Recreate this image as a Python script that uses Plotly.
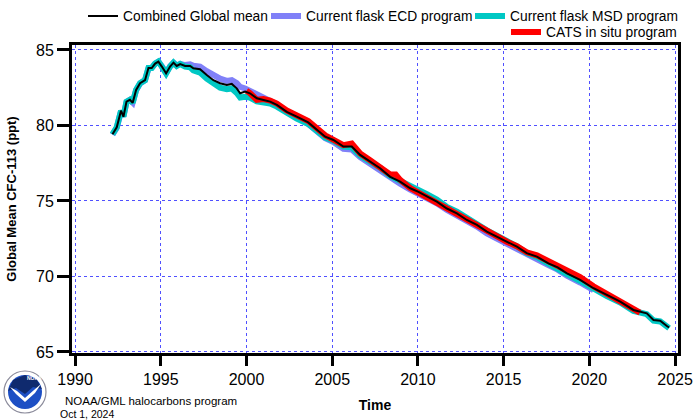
import plotly.graph_objects as go

# ---------------- data ----------------
comb_years = [1992.18, 1992.43, 1992.68, 1992.82, 1993.00, 1993.20, 1993.36, 1993.56, 1993.79, 1994.08,
              1994.28, 1994.47, 1994.67, 1994.86, 1995.06, 1995.31, 1995.54, 1995.74, 1995.93, 1996.13,
              1996.42, 1996.71, 1996.90, 1997.29, 1997.68, 1998.07, 1998.46, 1998.85, 1999.14, 1999.43,
              1999.63, 1999.92, 2000.20, 2000.60, 2000.99, 2001.38, 2001.77, 2002.35, 2002.93, 2003.60,
              2004.59, 2005.07, 2005.65, 2006.14, 2006.63, 2007.21, 2007.79, 2008.38, 2008.96, 2009.55,
              2010.03, 2010.52, 2011.10, 2011.69, 2012.27, 2012.85, 2013.44, 2014.02, 2014.60, 2015.19,
              2015.77, 2016.35, 2016.94, 2017.61, 2018.15, 2018.69, 2019.46, 2020.24, 2021.02, 2021.80,
              2022.57, 2023.35, 2023.74, 2024.13, 2024.52, 2024.65]
comb_vals = [79.42, 79.88, 80.98, 80.58, 81.58, 81.70, 81.50, 82.35, 82.80, 83.00,
             83.80, 83.80, 84.10, 84.23, 83.90, 83.45, 83.90, 84.16, 83.94, 84.07,
             83.94, 83.94, 83.79, 83.72, 83.34, 83.00, 82.80, 82.68, 82.75, 82.46,
             82.13, 82.24, 82.13, 81.80, 81.69, 81.58, 81.36, 80.90, 80.58, 80.20,
             79.26, 79.04, 78.60, 78.60, 78.05, 77.60, 77.17, 76.60, 76.28, 75.84,
             75.60, 75.30, 74.95, 74.50, 74.18, 73.74, 73.41, 72.97, 72.64, 72.30,
             71.97, 71.54, 71.31, 70.87, 70.60, 70.21, 69.77, 69.22, 68.77, 68.33,
             67.78, 67.56, 67.12, 67.07, 66.72, 66.62]

ecd_years = [1992.18, 1992.43, 1992.68, 1992.82, 1993.00, 1993.20, 1993.36, 1993.56, 1993.79, 1994.08,
             1994.28, 1994.47, 1994.67, 1994.86, 1995.06, 1995.31, 1995.54, 1995.74, 1995.93, 1996.13,
             1996.42, 1996.71, 1996.90, 1997.29, 1997.68, 1998.07, 1998.46, 1998.85, 1999.14, 1999.43,
             1999.63, 1999.92, 2000.20, 2000.60, 2000.99, 2001.38, 2001.77, 2002.35, 2002.93, 2003.60,
             2004.59, 2005.07, 2005.65, 2006.14, 2006.63, 2007.21, 2007.79, 2008.38, 2008.96, 2009.55,
             2010.03, 2010.52, 2011.10, 2011.69, 2012.27, 2012.85, 2013.44, 2014.02, 2014.60, 2015.19,
             2015.77, 2016.35, 2016.94, 2017.61, 2018.15, 2018.69, 2019.46, 2020.24]
ecd_vals = [79.40, 79.85, 80.95, 80.60, 81.55, 81.70, 81.52, 82.33, 82.78, 83.00,
            83.78, 83.82, 84.10, 84.22, 83.92, 83.48, 83.92, 84.15, 83.98, 84.08,
            84.00, 84.05, 83.95, 83.90, 83.60, 83.30, 83.10, 82.95, 83.00, 82.80,
            82.55, 82.45, 82.30, 82.00, 81.80, 81.65, 81.40, 80.90, 80.55, 80.10,
            79.15, 78.90, 78.45, 78.40, 77.90, 77.45, 77.00, 76.50, 76.15, 75.75,
            75.50, 75.20, 74.85, 74.40, 74.05, 73.60, 73.30, 72.85, 72.50, 72.15,
            71.80, 71.40, 71.15, 70.75, 70.45, 70.05, 69.60, 69.10]

msd_years = comb_years
msd_vals = [79.42, 79.88, 80.98, 80.58, 81.58, 81.70, 81.50, 82.35, 82.80, 83.00,
            83.80, 83.80, 84.10, 84.23, 83.90, 83.45, 83.90, 84.16, 83.94, 84.07,
            83.90, 83.85, 83.65, 83.50, 83.10, 82.75, 82.50, 82.40, 82.45, 82.15,
            81.85, 81.90, 81.85, 81.60, 81.55, 81.45, 81.25, 80.80, 80.45, 80.10,
            79.20, 79.00, 78.60, 78.55, 78.00, 77.60, 77.20, 76.65, 76.35, 75.95,
            75.75, 75.45, 75.10, 74.60, 74.30, 73.85, 73.50, 73.05, 72.70, 72.35,
            72.00, 71.55, 71.30, 70.85, 70.55, 70.15, 69.70, 69.15, 68.70, 68.28,
            67.72, 67.50, 67.08, 67.02, 66.68, 66.58]

cats_years = [2000.00, 2000.20, 2000.60, 2000.99, 2001.38, 2001.77, 2002.35, 2002.93, 2003.60, 2004.59,
              2005.07, 2005.65, 2006.14, 2006.63, 2007.21, 2007.79, 2008.38, 2008.70, 2008.96, 2009.55,
              2010.03, 2010.52, 2011.10, 2011.69, 2012.27, 2012.85, 2013.44, 2014.02, 2014.60, 2015.19,
              2015.77, 2016.35, 2016.94, 2017.61, 2018.15, 2018.69, 2019.46, 2020.24, 2021.02, 2021.80,
              2022.57, 2022.95]
cats_vals = [82.30, 82.15, 81.70, 81.75, 81.65, 81.45, 81.00, 80.65, 80.30, 79.35,
             79.10, 78.70, 78.80, 78.15, 77.70, 77.25, 76.75, 76.75, 76.40, 75.85,
             75.55, 75.20, 74.85, 74.45, 74.15, 73.70, 73.40, 72.95, 72.65, 72.30,
             72.00, 71.60, 71.40, 71.00, 70.75, 70.35, 69.95, 69.35, 68.85, 68.40,
             67.85, 67.60]

x_ticks = [1990, 1995, 2000, 2005, 2010, 2015, 2020, 2025]
y_ticks = [65, 70, 75, 80, 85]

# ---------------- figure ----------------
W, H = 695, 420
L, R, T, B = 72, 17, 45, 67
PW, PH = W - L - R, H - T - B
FONT = "Liberation Sans, Arial, Helvetica, sans-serif"

fig = go.Figure()
fig.add_trace(go.Scatter(x=ecd_years, y=ecd_vals, mode="lines", name="Current flask ECD program",
                         line=dict(color="#8080f8", width=6), legend="legend2"))
fig.add_trace(go.Scatter(x=msd_years, y=msd_vals, mode="lines", name="Current flask MSD program",
                         line=dict(color="#00c8c4", width=6), legend="legend3"))
fig.add_trace(go.Scatter(x=cats_years, y=cats_vals, mode="lines", name="CATS in situ program",
                         line=dict(color="#ff0000", width=6), legend="legend4"))
fig.add_trace(go.Scatter(x=comb_years, y=comb_vals, mode="lines", name="Combined Global mean",
                         line=dict(color="#000000", width=2), legend="legend"))

grid = dict(showgrid=True, gridcolor="#5050ff", gridwidth=1, griddash="dot")

fig.update_xaxes(range=[1989.82, 2025.17], tickvals=x_ticks, ticktext=[str(v) for v in x_ticks],
                 ticks="outside", ticklen=10, tickwidth=2.5, tickcolor="black",
                 showline=True, linecolor="black", linewidth=3, mirror=True, zeroline=False,
                 tickfont=dict(size=16, family=FONT, color="black"),
                 title=dict(text="<b>Time</b>", font=dict(size=14, family=FONT, color="black"), standoff=13),
                 **grid)
fig.update_yaxes(range=[64.93, 85.33], tickvals=y_ticks, ticktext=[str(v) for v in y_ticks],
                 ticks="outside", ticklen=12, tickwidth=2.5, tickcolor="black",
                 showline=True, linecolor="black", linewidth=3, mirror=True, zeroline=False,
                 tickfont=dict(size=16, family=FONT, color="black"),
                 title=dict(text="<b>Global Mean CFC-113 (ppt)</b>",
                            font=dict(size=13, family=FONT, color="black"), standoff=17),
                 **grid)


def leg(text_left_px, center_y_px):
    return dict(orientation="h", xref="container", yref="container",
                x=(text_left_px - 40) / W, y=1 - center_y_px / H,
                xanchor="left", yanchor="middle", font=dict(size=13.8, family=FONT, color="black"),
                itemwidth=30, bgcolor="rgba(0,0,0,0)", borderwidth=0)


fig.update_layout(
    width=W, height=H, margin=dict(l=L, r=R, t=T, b=B, autoexpand=False),
    plot_bgcolor="white", paper_bgcolor="white",
    font=dict(family=FONT, color="black"),
    legend=leg(123, 16),
    legend2=leg(306, 16),
    legend3=leg(510, 16),
    legend4=leg(546, 32),
    showlegend=True,
)


def px2paper(px, py):
    return (px - L) / PW, (H - B - py) / PH


# NOAA logo (simple drawing)
cx, cy = 25, 392
def circ(r, fill, line="rgba(0,0,0,0)", lw=0):
    x0, y0 = px2paper(cx - r, cy + r)
    x1, y1 = px2paper(cx + r, cy - r)
    fig.add_shape(type="circle", xref="paper", yref="paper", x0=x0, y0=y0, x1=x1, y1=y1,
                  fillcolor=fill, line=dict(color=line, width=lw), layer="above")

circ(21, "white", "#8a8a9a", 1.2)
circ(17, "#1d4fc4")
pts = [(cx - 17, cy - 1), (cx - 12, cy - 12), (cx, cy - 17), (cx + 12, cy - 12), (cx + 17, cy - 3),
       (cx + 8, cy - 5), (cx, cy + 2), (cx - 9, cy - 4)]
path = "M " + " L ".join("%f,%f" % px2paper(a, b) for a, b in pts) + " Z"
fig.add_shape(type="path", xref="paper", yref="paper", path=path, fillcolor="#0f2a6e",
              line=dict(width=0), layer="above")
pts = [(cx - 15, cy - 5), (cx - 8, cy - 1), (cx, cy + 6), (cx + 9, cy - 2), (cx + 16, cy - 8),
       (cx + 10, cy + 1), (cx, cy + 10), (cx - 9, cy + 2)]
path = "M " + " L ".join("%f,%f" % px2paper(a, b) for a, b in pts) + " Z"
fig.add_shape(type="path", xref="paper", yref="paper", path=path, fillcolor="white",
              line=dict(width=0), layer="above")
nx, ny = px2paper(cx, cy - 9)
fig.add_annotation(x=nx, y=ny, xref="paper", yref="paper", text="<b>NOAA</b>", showarrow=False,
                   font=dict(size=5, color="white", family=FONT))

tx, ty = px2paper(64, 401)
fig.add_annotation(x=tx, y=ty, xref="paper", yref="paper", text="NOAA/GML halocarbons program",
                   showarrow=False, xanchor="left", yanchor="middle", borderpad=0,
                   font=dict(size=11.5, family=FONT, color="black"))
tx, ty = px2paper(59, 413.5)
fig.add_annotation(x=tx, y=ty, xref="paper", yref="paper", text="Oct 1, 2024",
                   showarrow=False, xanchor="left", yanchor="middle", borderpad=0,
                   font=dict(size=10.5, family=FONT, color="black"))

fig.write_html("out.html")
